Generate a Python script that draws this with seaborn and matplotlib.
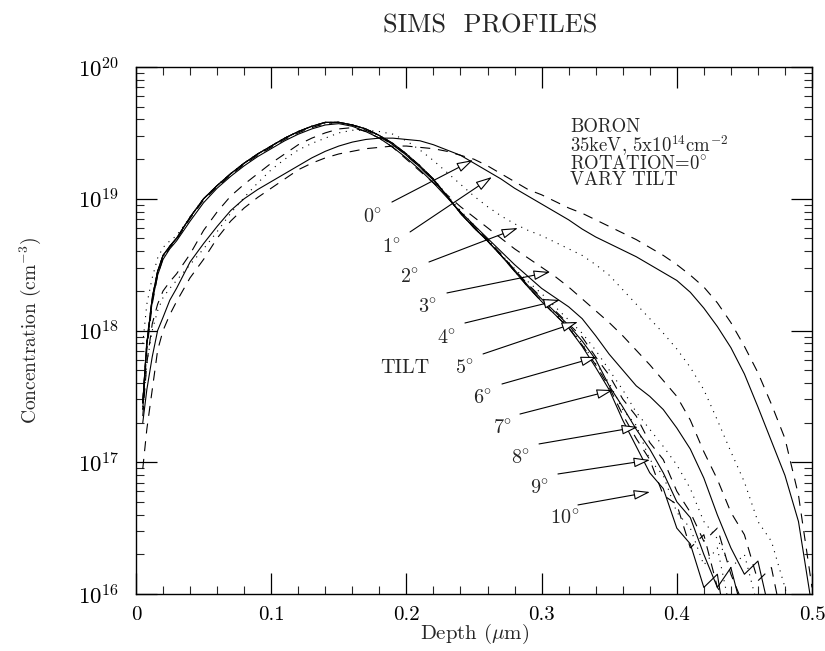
import numpy as np
import pandas as pd
import matplotlib
matplotlib.use("Agg")
import matplotlib.pyplot as plt
import seaborn as sns
from matplotlib.ticker import FixedLocator, MultipleLocator, LogLocator, NullFormatter
from matplotlib.patches import ArrowStyle

# ---------------- data ----------------
depth = [0.005, 0.008, 0.012, 0.016, 0.02, 0.025, 0.03,
         0.04, 0.05, 0.06, 0.07, 0.08, 0.09, 0.10,
         0.11, 0.12, 0.13, 0.14, 0.15, 0.16, 0.17, 0.18, 0.19, 0.20,
         0.21, 0.22, 0.23, 0.24, 0.25, 0.26, 0.27, 0.28, 0.29, 0.30,
         0.31, 0.32, 0.33, 0.34, 0.35, 0.36, 0.37, 0.38, 0.39, 0.40,
         0.41, 0.42, 0.43, 0.44, 0.45, 0.46, 0.47, 0.48, 0.49, 0.50]

# log10 of concentration (cm^-3) for each tilt angle
log_c0 = [16.95, 17.25, 17.55, 17.85, 18.00, 18.12, 18.22,
          18.40, 18.54, 18.70, 18.83, 18.93, 19.01, 19.08,
          19.15, 19.22, 19.27, 19.31, 19.34, 19.36, 19.38, 19.39, 19.40, 19.40,
          19.39, 19.38, 19.36, 19.33, 19.30, 19.25, 19.19, 19.13, 19.07, 19.03,
          18.98, 18.93, 18.89, 18.84, 18.79, 18.74, 18.69, 18.63, 18.57, 18.50,
          18.42, 18.33, 18.21, 18.06, 17.88, 17.68, 17.44, 17.18, 16.75, 16.05]
log_c1 = [17.30, 17.55, 17.80, 18.00, 18.10, 18.23, 18.32,
          18.52, 18.66, 18.79, 18.91, 19.00, 19.07, 19.13,
          19.19, 19.25, 19.31, 19.36, 19.40, 19.43, 19.45, 19.46, 19.46, 19.45,
          19.44, 19.41, 19.37, 19.33, 19.27, 19.21, 19.15, 19.08, 19.02, 18.96,
          18.90, 18.84, 18.77, 18.71, 18.66, 18.61, 18.56, 18.50, 18.44, 18.38,
          18.29, 18.17, 18.03, 17.87, 17.67, 17.42, 17.16, 16.90, 16.55, 15.90]
log_c2 = [17.40, 17.75, 18.00, 18.15, 18.25, 18.32, 18.38,
          18.50, 18.62, 18.75, 18.89, 19.01, 19.12, 19.22,
          19.30, 19.37, 19.42, 19.46, 19.50, 19.52, 19.52, 19.51, 19.49, 19.44,
          19.37, 19.29, 19.20, 19.11, 19.02, 18.94, 18.87, 18.81, 18.76, 18.72,
          18.67, 18.62, 18.57, 18.50, 18.42, 18.31, 18.20, 18.09, 17.98, 17.86,
          17.72, 17.55, 17.32, 17.08, 16.85, 16.55, 16.40, 16.05, 15.60, 15.50]
log_c3 = [17.35, 17.75, 18.05, 18.20, 18.30, 18.37, 18.43,
          18.58, 18.76, 18.90, 19.02, 19.11, 19.19, 19.27,
          19.34, 19.41, 19.46, 19.50, 19.53, 19.54, 19.51, 19.46, 19.39, 19.30,
          19.21, 19.12, 19.03, 18.94, 18.86, 18.78, 18.70, 18.62, 18.55, 18.48,
          18.41, 18.33, 18.24, 18.15, 18.06, 17.96, 17.85, 17.74, 17.62, 17.50,
          17.32, 17.08, 16.87, 16.62, 16.45, 16.10, 16.20, 15.70, 15.50, 15.50]
log_c4 = [17.45, 17.90, 18.22, 18.42, 18.54, 18.62, 18.68,
          18.83, 18.97, 19.08, 19.17, 19.25, 19.32, 19.38,
          19.44, 19.49, 19.53, 19.56, 19.57, 19.55, 19.51, 19.46, 19.39, 19.31,
          19.22, 19.12, 19.01, 18.90, 18.80, 18.70, 18.60, 18.50, 18.41, 18.32,
          18.25, 18.18, 18.09, 17.96, 17.82, 17.70, 17.58, 17.50, 17.40, 17.26,
          17.10, 16.88, 16.60, 16.35, 16.15, 16.25, 15.80, 15.50, 15.50, 15.50]
log_c5 = [17.90, 18.20, 18.40, 18.55, 18.63, 18.68, 18.72,
          18.86, 19.00, 19.10, 19.19, 19.27, 19.34, 19.40,
          19.46, 19.51, 19.55, 19.57, 19.58, 19.56, 19.53, 19.48, 19.42, 19.34,
          19.25, 19.15, 19.03, 18.91, 18.80, 18.69, 18.58, 18.47, 18.37, 18.28,
          18.18, 18.08, 17.98, 17.85, 17.70, 17.55, 17.38, 17.25, 17.12, 16.98,
          16.80, 16.55, 16.42, 16.20, 16.30, 15.90, 15.50, 15.50, 15.50, 15.50]
log_c6 = [17.40, 17.85, 18.20, 18.42, 18.55, 18.63, 18.69,
          18.85, 18.99, 19.09, 19.18, 19.26, 19.33, 19.39,
          19.45, 19.50, 19.54, 19.57, 19.58, 19.56, 19.52, 19.47, 19.41, 19.33,
          19.24, 19.14, 19.02, 18.90, 18.79, 18.69, 18.58, 18.46, 18.35, 18.25,
          18.15, 18.05, 17.95, 17.80, 17.66, 17.48, 17.35, 17.15, 17.02, 16.78,
          16.62, 16.40, 16.50, 16.15, 15.90, 15.60, 15.50, 15.50, 15.50, 15.50]
log_c7 = [17.45, 17.90, 18.24, 18.45, 18.57, 18.64, 18.70,
          18.86, 19.00, 19.10, 19.19, 19.27, 19.34, 19.40,
          19.46, 19.51, 19.55, 19.58, 19.58, 19.56, 19.53, 19.48, 19.41, 19.33,
          19.24, 19.14, 19.02, 18.89, 18.78, 18.68, 18.57, 18.46, 18.34, 18.24,
          18.14, 18.04, 17.92, 17.78, 17.58, 17.42, 17.25, 17.10, 16.92, 16.70,
          16.58, 16.30, 16.05, 16.20, 15.80, 15.50, 15.50, 15.50, 15.50, 15.50]
log_c8 = [17.42, 17.88, 18.23, 18.44, 18.56, 18.64, 18.70,
          18.86, 19.00, 19.10, 19.19, 19.27, 19.34, 19.40,
          19.46, 19.51, 19.55, 19.58, 19.58, 19.56, 19.53, 19.48, 19.42, 19.34,
          19.25, 19.15, 19.02, 18.89, 18.78, 18.68, 18.57, 18.45, 18.33, 18.23,
          18.13, 18.03, 17.90, 17.75, 17.60, 17.40, 17.28, 17.02, 16.90, 16.62,
          16.50, 16.22, 16.35, 15.85, 15.60, 15.50, 15.50, 15.50, 15.50, 15.50]
log_c9 = [17.45, 17.92, 18.25, 18.45, 18.57, 18.64, 18.70,
          18.86, 19.00, 19.10, 19.19, 19.27, 19.34, 19.40,
          19.46, 19.51, 19.55, 19.58, 19.58, 19.56, 19.53, 19.48, 19.42, 19.34,
          19.25, 19.15, 19.02, 18.89, 18.78, 18.68, 18.57, 18.45, 18.33, 18.22,
          18.12, 18.02, 17.89, 17.74, 17.57, 17.36, 17.18, 17.02, 16.75, 16.68,
          16.35, 16.45, 16.05, 15.90, 15.60, 15.50, 15.50, 15.50, 15.50, 15.50]
log_c10 = [17.45, 17.90, 18.25, 18.45, 18.57, 18.64, 18.70,
           18.86, 19.00, 19.10, 19.19, 19.27, 19.34, 19.40,
           19.46, 19.51, 19.55, 19.58, 19.58, 19.56, 19.53, 19.48, 19.42, 19.34,
           19.25, 19.15, 19.02, 18.89, 18.78, 18.68, 18.57, 18.45, 18.33, 18.22,
           18.12, 18.02, 17.88, 17.72, 17.55, 17.32, 17.12, 16.92, 16.80, 16.50,
           16.38, 16.05, 16.15, 15.50, 15.50, 15.50, 15.50, 15.50, 15.50, 15.50]

tilts = [0, 1, 2, 3, 4, 5, 6, 7, 8, 9, 10]

xtick_values = [0, 0.1, 0.2, 0.3, 0.4, 0.5]
xtick_labels = ["0", "0.1", "0.2", "0.3", "0.4", "0.5"]
ytick_exponents = [16, 17, 18, 19, 20]

# annotation layout (data coordinates: depth, log10 conc)
label_pos = [(0.1753, 18.862), (0.1893, 18.634), (0.2027, 18.406), (0.2160, 18.178),
             (0.2300, 17.943), (0.2433, 17.715), (0.2567, 17.488), (0.2714, 17.260),
             (0.2848, 17.032), (0.2988, 16.805), (0.3173, 16.577)]
arrow_start = [(0.1893, 18.975), (0.2027, 18.748), (0.2167, 18.520), (0.2300, 18.285),
               (0.2433, 18.057), (0.2567, 17.822), (0.2707, 17.594), (0.2840, 17.366),
               (0.2981, 17.139), (0.3121, 16.911), (0.3269, 16.676)]
arrow_tip = [(0.2493, 19.294), (0.2633, 19.165), (0.2825, 18.778), (0.3062, 18.444),
             (0.3136, 18.232), (0.3269, 18.065), (0.3410, 17.799), (0.3528, 17.548),
             (0.3713, 17.268), (0.3802, 17.017), (0.3802, 16.774)]

# ---------------- style ----------------
sns.set_style("ticks")
plt.rcParams["font.family"] = ["cmr10", "DejaVu Serif"]
plt.rcParams["mathtext.fontset"] = "cm"
plt.rcParams["axes.unicode_minus"] = False
plt.rcParams["axes.formatter.use_mathtext"] = True

fig = plt.figure(figsize=(8.25, 6.51), dpi=100)
ax = fig.add_axes([136 / 825, 1 - 594 / 651, 676 / 825, 527 / 651])

curves = [log_c0, log_c1, log_c2, log_c3, log_c4, log_c5,
          log_c6, log_c7, log_c8, log_c9, log_c10]
dash = (0, (9, 7))
dot = (0, (1, 5))
styles = [dash, "-", dot, dash, "-", dot, dash, "-", dot, dash, "-"]

for t, lc, ls in zip(tilts, curves, styles):
    df = pd.DataFrame({"depth": depth, "conc": np.power(10.0, lc)})
    sns.lineplot(data=df, x="depth", y="conc", ax=ax, color="black",
                 linewidth=0.8, linestyle=ls, sort=False, estimator=None)

ax.set_yscale("log")
ax.set_xlim(0, 0.5)
ax.set_ylim(1e16, 1e20)
ax.set_xlabel("")
ax.set_ylabel("")

ax.xaxis.set_major_locator(FixedLocator(xtick_values))
ax.set_xticklabels(xtick_labels)
ax.xaxis.set_minor_locator(MultipleLocator(0.02))
yt = [10.0 ** e for e in ytick_exponents]
ax.yaxis.set_major_locator(FixedLocator(yt))
ax.set_yticklabels([r"$10^{%d}$" % e for e in ytick_exponents])
ax.yaxis.set_minor_locator(LogLocator(base=10, subs=np.arange(2, 10)))
ax.yaxis.set_minor_formatter(NullFormatter())

ax.tick_params(which="major", direction="in", length=15, width=0.9,
               top=True, right=True, colors="black")
ax.tick_params(axis="x", which="major", labelsize=15, pad=9)
ax.tick_params(axis="y", which="major", labelsize=16.5, pad=12)
ax.tick_params(which="minor", direction="in", length=6, width=0.8,
               top=True, right=True)
for s in ax.spines.values():
    s.set_linewidth(1.0)
    s.set_color("black")

# labels & title
fig.text(490 / 825, 1 - 26 / 651, "SIMS  PROFILES", ha="center", va="center", fontsize=19)
fig.text(475 / 825, 1 - 634 / 651, r"Depth ($\mu$m)", ha="center", va="center", fontsize=15)
fig.text(30 / 825, 1 - 330 / 651, r"Concentration (cm$^{-3}$)", ha="center", va="center",
         rotation=90, fontsize=14)

# info block (one multi-line text)
info_text = "BORON\n" + r"35keV, 5x10$^{14}$cm$^{-2}$" + "\n" + r"ROTATION=0$^{\circ}$" + "\nVARY TILT"
ax.text(0.321, 10 ** 19.61, info_text, ha="left", va="top", fontsize=13.5, linespacing=0.82)

# tilt labels with arrows
for t, (lx, ly), (sx, sy), (tx, ty) in zip(tilts, label_pos, arrow_start, arrow_tip):
    ax.text(lx, 10 ** ly, r"%d$^{\circ}$" % t, ha="center", va="center", fontsize=14.5)
    ax.annotate("", xy=(tx, 10 ** ty), xytext=(sx, 10 ** sy),
                arrowprops=dict(arrowstyle=ArrowStyle("-|>", head_length=1.0, head_width=0.3),
                                mutation_scale=10, fc="white", ec="black", lw=0.8,
                                shrinkA=0, shrinkB=0))
ax.text(0.199, 10 ** 17.715, "TILT", ha="center", va="center", fontsize=14.5)

fig.savefig("out.png", dpi=100)
